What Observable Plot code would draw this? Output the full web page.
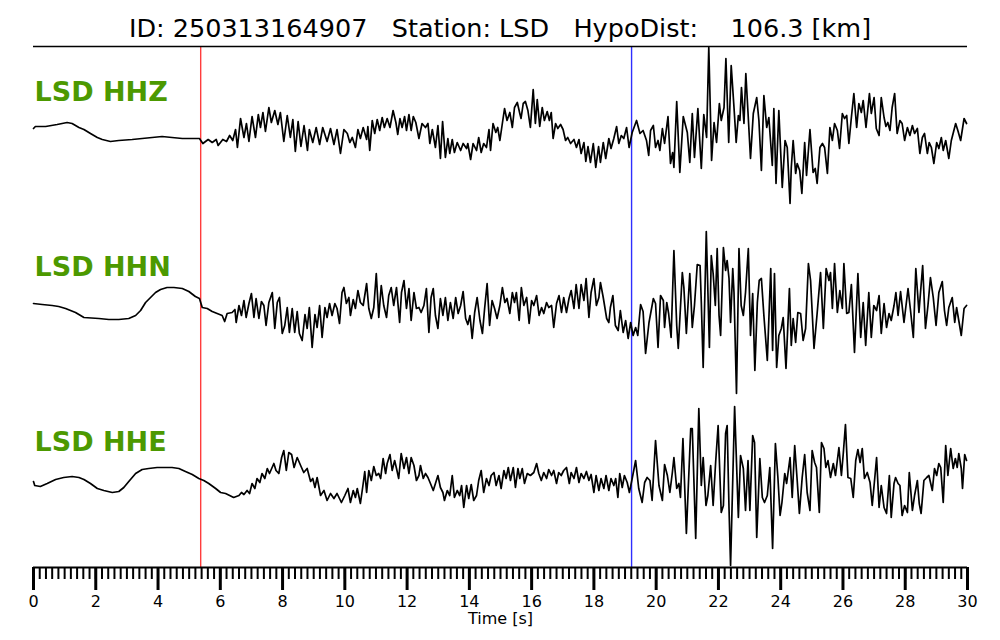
<!DOCTYPE html>
<html><head><meta charset="utf-8">
<script src="https://cdn.jsdelivr.net/npm/d3@7"></script>
<script src="https://cdn.jsdelivr.net/npm/@observablehq/plot@0.6"></script>
<style>
body{margin:0;background:#fff;font-family:"DejaVu Sans",sans-serif;}
#title{position:relative;height:40px;width:1000px;}
#title div{position:absolute;top:13px;left:0;width:1000px;text-align:center;font-size:25.5px;white-space:pre;line-height:normal;color:#000}
</style></head><body>
<div id="title"><div>ID: 250313164907   Station: LSD   HypoDist:    106.3 [km]</div></div>
<div id="chart"></div>
<script>
// [time (s), amplitude (relative counts)]
const hhz = [[0.00,2],[0.06,4],[0.39,4],[0.76,6],[1.08,8],[1.24,7],[1.46,3],[1.62,1],[1.83,-3],[2.05,-7],[2.21,-9],[2.47,-11],[2.74,-10],[3.17,-9],[3.49,-8],[4.13,-6],[4.45,-7],[4.78,-8],[5.33,-8],[5.44,-13],[5.61,-9],[5.74,-12],[5.87,-9],[5.93,-15],[6.08,-9],[6.20,-11],[6.30,-5],[6.40,-10],[6.49,1],[6.55,-17],[6.65,12],[6.76,-7],[6.84,7],[6.92,-11],[7.02,14],[7.13,-7],[7.22,16],[7.29,3],[7.37,18],[7.45,-1],[7.56,23],[7.64,8],[7.75,20],[7.85,6],[7.93,18],[8.04,-11],[8.15,15],[8.25,-7],[8.33,11],[8.41,-21],[8.50,9],[8.59,-16],[8.69,5],[8.80,-20],[8.86,1],[8.97,-12],[9.08,3],[9.19,-14],[9.29,3],[9.43,-11],[9.54,2],[9.65,-14],[9.75,1],[9.86,-23],[9.97,1],
[10.08,-3],[10.16,-12],[10.24,-7],[10.34,-17],[10.42,1],[10.50,-8],[10.59,3],[10.70,-9],[10.74,4],[10.80,-20],[10.88,10],[10.96,-3],[11.04,11],[11.12,0],[11.20,13],[11.27,3],[11.36,12],[11.45,3],[11.55,20],[11.64,8],[11.70,-4],[11.77,12],[11.84,3],[11.92,14],[11.98,0],[12.06,16],[12.13,0],[12.20,14],[12.28,8],[12.38,-8],[12.48,7],[12.59,3],[12.67,7],[12.73,-13],[12.81,1],[12.91,-17],[12.99,5],[13.07,-28],[13.14,9],[13.23,-27],[13.31,-8],[13.37,-23],[13.45,-9],[13.52,-22],[13.61,-12],[13.72,-20],[13.80,-13],[13.91,-18],[13.95,-13],[14.04,-29],[14.12,-13],[14.23,-20],[14.30,-7],[14.38,-22],[14.46,-13],[14.55,-17],[14.63,1],[14.68,-20],[14.76,7],[14.85,-2],[14.91,3],[14.98,-10],[15.05,5],[15.13,22],[15.21,10],[15.30,18],[15.38,3],[15.45,23],[15.54,28],[15.62,17],[15.66,12],[15.73,27],[15.80,29],[15.88,20],[15.96,3],[16.05,41],[16.12,7],[16.18,31],[16.26,4],[16.34,23],[16.41,10],[16.50,19],[16.57,10],[16.63,18],[16.69,-8],[16.77,7],[16.84,2],[16.93,6],[17.01,1],[17.09,-10],[17.16,-7],[17.25,-13],[17.36,-9],[17.44,-17],[17.52,-9],[17.59,-23],[17.68,-12],[17.74,-31],[17.81,-16],[17.89,-32],[17.98,-13],[18.06,-37],[18.15,-16],[18.21,-32],[18.30,-12],[18.38,-28],[18.48,-8],[18.55,-18],[18.64,-8],[18.73,4],[18.80,-13],[18.88,-5],[18.96,-8],[19.05,3],[19.13,-17],[19.23,-2],[19.37,10],[19.48,-3],[19.58,0],[19.69,-10],[19.76,-25],
[19.82,0],[19.91,5],[19.98,-17],[20.06,-10],[20.12,-20],[20.20,2],[20.27,-13],[20.38,14],[20.46,-33],[20.53,-22],[20.57,-37],[20.66,29],[20.76,-42],[20.87,14],[21.00,-2],[21.08,-32],[21.16,17],[21.23,-27],[21.34,22],[21.45,-38],[21.53,16],[21.62,-7],[21.69,83],[21.78,-30],[21.86,8],[21.94,-12],[22.03,27],[22.09,10],[22.18,23],[22.24,72],[22.33,-12],[22.41,65],[22.50,23],[22.57,-12],[22.64,15],[22.69,10],[22.74,43],[22.82,7],[22.88,57],[22.95,18],[23.03,-28],[23.12,17],[23.23,33],[23.30,10],[23.38,-40],[23.46,35],[23.55,3],[23.62,13],[23.73,-35],[23.78,22],[23.85,-53],[23.94,20],[24.05,-57],[24.14,-10],[24.21,-17],[24.30,-73],[24.34,-37],[24.40,-10],[24.48,-43],[24.53,-33],[24.61,-40],[24.68,-63],[24.77,-12],[24.83,-45],[24.94,1],[25.04,-42],[25.11,-38],[25.17,-53],[25.26,-17],[25.34,-13],[25.41,-17],[25.50,-43],[25.58,3],[25.66,-10],[25.73,7],[25.82,0],[25.89,-18],[25.98,17],[26.05,12],[26.12,15],[26.19,-13],[26.27,13],[26.35,37],[26.44,3],[26.51,27],[26.59,18],[26.65,30],[26.74,3],[26.85,37],[26.91,17],[27.00,33],[27.07,2],[27.16,-5],[27.23,33],[27.32,13],[27.38,4],[27.44,8],[27.51,0],[27.58,23],[27.66,37],[27.74,-3],[27.83,10],[27.90,7],[27.98,-10],[28.07,3],[28.15,-5],[28.23,5],[28.30,-3],[28.39,2],[28.47,-23],[28.55,-7],[28.62,-3],[28.71,-23],[28.77,-12],[28.84,-17],[28.92,-33],[29.01,-12],[29.08,-18],[29.16,-7],[29.22,-20],[29.30,-10],[29.40,-28],[29.48,-10],[29.62,7],[29.69,0],[29.78,-10],[29.89,12],[29.97,7]];

const hhn = [[0.00,2],[0.28,1],[0.60,0],[0.81,-1],[1.03,-3],[1.35,-7],[1.62,-12],[2.10,-13],[2.42,-14],[2.74,-14],[3.06,-13],[3.28,-10],[3.44,-5],[3.60,3],[3.76,8],[3.92,13],[4.08,16],[4.29,18],[4.51,18],[4.78,17],[4.99,14],[5.20,9],[5.33,7],[5.42,-2],[5.58,-3],[5.74,-6],[5.90,-8],[6.06,-10],[6.14,-16],[6.22,-8],[6.38,-7],[6.47,-4],[6.51,-17],[6.60,0],[6.68,-10],[6.76,5],[6.83,-12],[6.92,2],[7.00,12],[7.08,-12],[7.15,7],[7.24,-13],[7.32,4],[7.40,0],[7.47,-20],[7.56,3],[7.67,13],[7.75,-23],[7.83,3],[7.90,8],[7.99,-28],[8.07,-20],[8.15,-2],[8.22,-27],[8.31,-3],[8.39,-27],[8.47,-6],[8.54,-28],[8.63,-35],[8.72,-9],[8.79,-23],[8.86,-2],[8.95,-42],[9.04,-9],[9.11,-22],[9.19,0],[9.27,-32],[9.36,-2],[9.43,-12],[9.51,2],[9.59,-10],[9.68,2],[9.75,-3],[9.83,-18],[9.91,13],[9.97,18],
[10.05,2],[10.13,8],[10.18,-10],[10.27,6],[10.34,-3],[10.42,15],[10.50,3],[10.59,0],[10.70,22],[10.77,-3],[10.85,-13],[10.93,-2],[11.01,32],[11.09,-12],[11.17,20],[11.25,0],[11.34,-12],[11.41,10],[11.49,18],[11.57,0],[11.66,18],[11.76,-17],[11.82,13],[11.90,25],[11.98,-3],[12.06,17],[12.13,-15],[12.22,13],[12.30,-3],[12.38,-2],[12.45,-7],[12.54,0],[12.62,17],[12.70,-27],[12.77,8],[12.84,17],[12.91,-10],[12.99,-23],[13.07,7],[13.15,-10],[13.23,8],[13.31,-15],[13.39,3],[13.48,-13],[13.56,8],[13.64,-8],[13.72,0],[13.80,14],[13.88,-13],[13.95,-19],[14.02,-10],[14.09,-33],[14.17,-7],[14.25,8],[14.34,-15],[14.42,-28],[14.49,-3],[14.57,22],[14.65,-20],[14.73,5],[14.81,-3],[14.89,-13],[14.98,0],[15.06,18],[15.14,3],[15.21,7],[15.30,-8],[15.38,13],[15.45,3],[15.51,13],[15.60,-15],[15.67,18],[15.75,0],[15.84,8],[15.92,-18],[16.00,5],[16.07,0],[16.16,10],[16.24,-10],[16.32,-2],[16.39,-8],[16.48,3],[16.55,-2],[16.64,0],[16.71,-22],[16.80,2],[16.88,10],[16.96,-7],[17.03,8],[17.12,-7],[17.20,7],[17.27,15],[17.36,-3],[17.43,21],[17.52,-3],[17.59,21],[17.68,5],[17.75,27],[17.84,-12],[17.91,13],[18.00,27],[18.08,0],[18.16,8],[18.21,23],[18.30,8],[18.41,-13],[18.48,-17],[18.53,-2],[18.61,10],[18.69,-20],[18.78,-25],[18.85,-5],[18.94,-27],[19.02,-15],[19.10,-33],[19.18,-17],[19.26,-30],[19.34,-22],[19.41,-30],[19.50,1],[19.58,-6],
[19.66,-48],[19.77,-17],[19.91,7],[19.98,2],[20.06,-42],[20.14,10],[20.23,5],[20.27,-22],[20.34,3],[20.40,-8],[20.48,-32],[20.57,55],[20.66,-20],[20.71,-43],[20.84,33],[20.89,18],[20.97,-28],[21.08,32],[21.16,-22],[21.23,0],[21.32,41],[21.41,40],[21.45,3],[21.51,-62],[21.61,74],[21.71,-42],[21.77,50],[21.83,32],[21.90,0],[21.96,57],[22.02,-10],[22.07,-30],[22.16,58],[22.23,35],[22.28,45],[22.34,27],[22.39,-17],[22.46,37],[22.50,13],[22.58,-88],[22.66,57],[22.73,0],[22.80,-10],[22.87,13],[22.96,57],[23.03,-30],[23.10,12],[23.17,-65],[23.25,3],[23.31,25],[23.38,27],[23.46,-10],[23.57,-55],[23.68,37],[23.74,-45],[23.80,32],[23.87,-62],[23.94,-30],[24.02,-23],[24.08,-12],[24.17,-63],[24.28,17],[24.34,-40],[24.40,-13],[24.48,-37],[24.55,-7],[24.64,-8],[24.72,-35],[24.80,-23],[24.89,42],[24.96,25],[25.07,-43],[25.17,-8],[25.28,33],[25.37,-23],[25.46,37],[25.55,25],[25.60,33],[25.66,-3],[25.73,42],[25.82,-7],[25.90,15],[25.98,-3],[26.03,42],[26.12,-8],[26.19,-7],[26.27,21],[26.37,-47],[26.48,32],[26.57,-32],[26.65,3],[26.73,-40],[26.83,13],[26.91,-32],[26.99,0],[27.08,-5],[27.16,10],[27.23,-28],[27.32,2],[27.40,-22],[27.48,-8],[27.55,-15],[27.64,0],[27.70,13],[27.77,-10],[27.85,14],[27.96,-17],[28.09,17],[28.17,-5],[28.26,-32],[28.34,37],[28.44,-7],[28.56,40],[28.65,-23],[28.73,0],[28.81,28],[28.90,8],[28.99,-20],[29.08,13],[29.19,24],[29.26,-5],[29.33,-20],[29.40,-2],[29.51,8],[29.59,-17],[29.65,-2],[29.72,-15],[29.80,-30],[29.89,-3],[29.97,0]];

const hhe = [[0.00,-1],[0.04,-5],[0.22,-6],[0.44,-3],[0.71,1],[0.97,3],[1.24,4],[1.46,3],[1.62,1],[1.83,-3],[2.05,-8],[2.26,-10],[2.53,-12],[2.74,-11],[2.90,-7],[3.06,-1],[3.28,7],[3.49,11],[3.70,12],[3.97,13],[4.24,13],[4.45,13],[4.67,12],[4.88,9],[5.10,6],[5.31,2],[5.47,0],[5.63,-3],[5.85,-8],[6.01,-12],[6.17,-13],[6.43,-17],[6.60,-15],[6.68,-12],[6.76,-14],[6.86,-10],[6.94,-13],[7.02,-3],[7.11,-8],[7.18,2],[7.27,-2],[7.34,7],[7.43,2],[7.51,12],[7.58,7],[7.72,17],[7.79,10],[7.88,7],[7.97,23],[8.04,30],[8.12,10],[8.20,28],[8.29,26],[8.37,13],[8.47,23],[8.58,15],[8.68,8],[8.79,12],[8.90,-1],[8.97,2],[9.04,-7],[9.11,3],[9.22,-15],[9.33,-10],[9.43,-20],[9.54,-13],[9.65,-18],[9.75,-13],[9.89,-22],[10.00,-15],
[10.10,-8],[10.18,-22],[10.27,-10],[10.34,-17],[10.40,-8],[10.50,-23],[10.59,-3],[10.64,9],[10.70,-12],[10.77,10],[10.85,0],[10.93,14],[11.01,5],[11.09,7],[11.15,2],[11.23,22],[11.31,7],[11.36,17],[11.45,26],[11.52,10],[11.60,20],[11.66,12],[11.73,2],[11.81,27],[11.90,12],[11.98,23],[12.06,7],[12.13,23],[12.22,15],[12.30,0],[12.38,5],[12.43,15],[12.52,2],[12.59,7],[12.67,3],[12.75,-3],[12.84,-10],[12.91,-3],[12.99,5],[13.07,-7],[13.15,-12],[13.20,-20],[13.29,-10],[13.37,-15],[13.45,5],[13.52,-17],[13.61,-10],[13.69,-15],[13.75,-5],[13.82,-27],[13.91,-5],[13.98,-18],[14.06,-4],[14.14,-20],[14.23,-15],[14.30,0],[14.38,10],[14.46,-12],[14.55,2],[14.63,-5],[14.70,5],[14.79,8],[14.86,-5],[14.95,5],[15.02,-8],[15.11,10],[15.18,2],[15.25,13],[15.32,0],[15.41,13],[15.48,-7],[15.56,12],[15.62,2],[15.70,12],[15.77,-3],[15.86,7],[15.96,5],[16.07,8],[16.16,17],[16.23,7],[16.31,0],[16.39,8],[16.48,2],[16.55,11],[16.64,5],[16.71,10],[16.80,-3],[16.87,8],[16.95,5],[17.03,10],[17.12,13],[17.21,-3],[17.27,8],[17.36,2],[17.44,13],[17.52,-2],[17.59,7],[17.68,2],[17.76,9],[17.84,0],[17.91,6],[18.00,-12],[18.07,5],[18.16,-10],[18.23,2],[18.32,-8],[18.39,5],[18.48,-10],[18.55,2],[18.64,-5],[18.70,2],[18.77,-17],[18.83,7],[18.91,-7],[18.98,5],[19.07,-2],[19.14,-12],[19.23,2],[19.34,20],[19.44,-8],[19.55,-22],
[19.63,-2],[19.71,3],[19.80,0],[19.87,-20],[19.98,40],[20.09,-5],[20.20,-20],[20.27,16],[20.36,5],[20.44,-12],[20.52,8],[20.57,23],[20.66,-8],[20.73,-3],[20.78,-17],[20.86,42],[20.97,-53],[21.11,52],[21.16,52],[21.27,-58],[21.37,72],[21.45,-5],[21.51,23],[21.60,-25],[21.66,-15],[21.75,15],[21.83,-25],[21.91,18],[21.99,55],[22.09,-32],[22.16,-25],[22.23,47],[22.28,55],[22.34,-28],[22.39,-85],[22.52,74],[22.64,-37],[22.71,25],[22.80,12],[22.87,-30],[22.95,20],[23.01,-30],[23.10,45],[23.16,38],[23.23,-57],[23.33,22],[23.41,-17],[23.48,-22],[23.57,-15],[23.65,13],[23.74,-68],[23.83,37],[23.91,3],[23.98,-35],[24.04,-22],[24.13,7],[24.19,-3],[24.30,23],[24.37,-17],[24.45,35],[24.53,0],[24.60,-33],[24.69,3],[24.77,26],[24.85,-12],[24.94,-30],[25.01,30],[25.09,18],[25.15,13],[25.24,-32],[25.31,38],[25.39,32],[25.45,13],[25.52,20],[25.60,3],[25.69,17],[25.76,5],[25.87,33],[25.95,5],[26.01,27],[26.08,56],[26.16,3],[26.25,2],[26.33,-17],[26.41,20],[26.48,31],[26.55,18],[26.62,32],[26.69,2],[26.78,8],[26.87,-2],[26.94,-25],[27.02,2],[27.08,23],[27.16,-27],[27.23,-5],[27.32,-27],[27.40,-33],[27.49,5],[27.55,-37],[27.64,-3],[27.69,3],[27.77,-3],[27.83,-5],[27.90,-35],[27.98,-25],[28.07,-32],[28.13,8],[28.23,-30],[28.30,-15],[28.39,0],[28.45,-23],[28.51,-33],[28.60,0],[28.69,3],[28.76,5],[28.87,-10],[28.94,12],[29.01,5],[29.08,17],[29.14,13],[29.22,-22],[29.30,35],[29.37,5],[29.46,32],[29.54,12],[29.61,22],[29.67,13],[29.72,27],[29.80,12],[29.84,-8],[29.91,26],[29.97,20]];

const channels = ["LSD HHZ", "LSD HHN", "LSD HHE"];
const pickTimes = [5.37, 19.21];          // P (red), S (blue)
const majorTicks = [0, 2, 4, 6, 8, 10, 12, 14, 16, 18, 20, 22, 24, 26, 28, 30];
const minorTicks = d3.range(0, 151).map(i => i / 5);

// layout (not data)
const yMax = 521;
const offsets = [437, 262, 87];
const labelLift = 30;
const pickColors = ["#ff3c3c", "#2e2eff"];

const traces = [hhz, hhn, hhe];
const marks = [];
pickTimes.forEach((t, i) => marks.push(Plot.ruleX([t], {stroke: pickColors[i], strokeWidth: 1.4})));
traces.forEach((tr, i) => {
  marks.push(Plot.line(tr, {x: d => d[0], y: d => d[1] + offsets[i], stroke: "black", strokeWidth: 1.7, curve: "linear"}));
  marks.push(Plot.text([channels[i]], {x: 0, y: offsets[i] + labelLift, text: d => d, textAnchor: "start", lineAnchor: "bottom", fontSize: 27, fontWeight: "bold", fill: "#4c9900", dx: 1}));
});
marks.push(Plot.ruleY([yMax], {stroke: "black", strokeWidth: 1.6}));
marks.push(Plot.ruleY([0], {stroke: "black", strokeWidth: 2}));
marks.push(Plot.axisX(minorTicks, {anchor: "bottom", tickSize: 12, strokeWidth: 2, tickFormat: () => "", label: null}));
marks.push(Plot.axisX(majorTicks, {anchor: "bottom", tickSize: 23, tickPadding: 5, strokeWidth: 3, fontSize: 16, label: null, tickFormat: d => String(d)}));
marks.push(Plot.text(["Time [s]"], {frameAnchor: "bottom", dy: 51, lineAnchor: "middle", fontSize: 16, fill: "black"}));

const chart = Plot.plot({
  width: 1000, height: 600,
  marginTop: 6, marginBottom: 73, marginLeft: 33, marginRight: 33,
  x: {domain: [0, 30]},
  y: {domain: [0, yMax], axis: null},
  style: {fontFamily: "DejaVu Sans", fontSize: "16px", background: "white", overflow: "visible", color: "black"},
  marks
});
document.getElementById("chart").appendChild(chart);
</script>
</body></html>
